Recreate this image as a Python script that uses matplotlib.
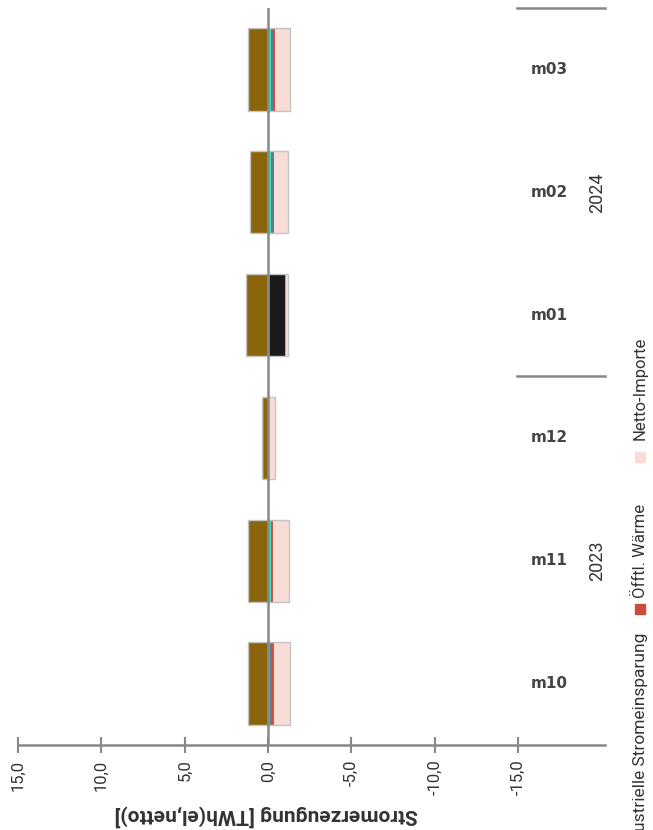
import matplotlib
matplotlib.use("Agg")
import matplotlib.pyplot as plt
from matplotlib.patches import Rectangle

plt.rcParams['font.family'] = ['Roboto', 'DejaVu Sans']

# Categories (bottom to top in the rotated chart)
months = ["m10", "m11", "m12", "m01", "m02", "m03"]
years = ["2023", "2024"]

# Stacked series, TWh
brown = [1.2, 1.2, 0.25, 1.25, 1.1, 1.2]
green_gray = [0.0, 0.0, 0.1, 0.05, 0.0, 0.0]
black = [0.0, 0.0, 0.0, -1.0, 0.0, 0.0]
turquoise = [-0.1, -0.2, 0.0, -0.08, -0.15, -0.15]
steel = [-0.15, -0.05, 0.0, 0.0, -0.15, -0.2]
heat = [-0.1, -0.05, 0.0, 0.0, -0.05, -0.05]
imports = [-0.95, -0.95, -0.4, -0.12, -0.85, -0.9]

ticks = [15, 10, 5, 0, -5, -10, -15]
tick_labels = ["15,0", "10,0", "5,0", "0,0", "-5,0", "-10,0", "-15,0"]

W, H = 653, 830
fig = plt.figure(figsize=(W / 100, H / 100), dpi=100)
ax = fig.add_axes([0, (H - 745) / H, 605 / W, (745 - 8) / H])

y = list(range(len(months)))
bh = 0.67

# positive side
pos = [0.0] * len(months)
for vals, col in [(brown, "#8a650b"), (green_gray, "#5f8a6a")]:
    ax.barh(y, vals, left=pos, color=col, height=bh, linewidth=0)
    pos = [a + b for a, b in zip(pos, vals)]

# negative side
neg = [0.0] * len(months)
for vals, col in [(black, "#1a1a1a"), (turquoise, "#35e3c3"), (steel, "#5f7a8c"),
                  (heat, "#d4513c"), (imports, "#f8dcd6")]:
    ax.barh(y, vals, left=neg, color=col, height=bh, linewidth=0)
    neg = [a + b for a, b in zip(neg, vals)]

# light outline around each stack
ax.barh(y, pos, height=bh, fill=False, edgecolor="#c4c4c4", linewidth=1)
ax.barh(y, neg, height=bh, fill=False, edgecolor="#c4c4c4", linewidth=1)

ax.axvline(0, color="#888888", lw=1.8, zorder=3)

ax.set_xlim(268 / 16.667, -(605 - 268) / 16.667)
ax.set_ylim(-0.5, 5.5)
for s in ["top", "left", "right"]:
    ax.spines[s].set_visible(False)
ax.spines["bottom"].set_color("#888888")
ax.spines["bottom"].set_linewidth(1.8)
ax.spines["bottom"].set_bounds(-20.22, 15)
ax.set_yticks([])
ax.set_xticks(ticks)
ax.set_xticklabels(tick_labels, rotation=90, fontsize=12, color="#333333")
ax.tick_params(axis="x", direction="inout", length=11, width=1.5, color="#888888", pad=5)

# category labels
for i, m in enumerate(months):
    ax.text(-16.9, i, m, ha="center", va="center", fontsize=11, fontweight="bold",
            color="#444444", family="DejaVu Sans")
for yy, yr in zip([1, 4], years):
    ax.text(-19.75, yy, yr, ha="center", va="center", rotation=90, fontsize=13, color="#333333")
for yy in [2.5, 5.5]:
    ax.plot([-14.95, -20.22], [yy, yy], color="#888888", lw=1.8, clip_on=False)

fig.text(266 / W, (H - 816) / H, "Stromerzeugung [TWh(el,netto)]", rotation=180,
         ha="center", va="center", fontsize=15, fontweight="bold", color="#333333")

# legend (rotated, partially cut off)
legend_items = [("Industrielle Stromeinsparung", None), ("Öfftl. Wärme", "#cc4c3a"),
                ("Netto-Importe", "#f8dcd6")]
lx = 640 / W
fig.text(lx, (H - 632) / H, legend_items[0][0], rotation=90, rotation_mode="anchor",
         ha="right", va="center", fontsize=12.5, color="#333333")
for (name, col), sq, ts in zip(legend_items[1:], [614, 462], [598, 440]):
    fig.patches.append(Rectangle((635 / W, (H - sq) / H), 10 / W, 10 / H,
                                 transform=fig.transFigure, color=col, figure=fig))
    fig.text(lx, (H - ts) / H, name, rotation=90, rotation_mode="anchor",
             ha="left", va="center", fontsize=12, color="#333333")

fig.savefig("out.png", dpi=100)
